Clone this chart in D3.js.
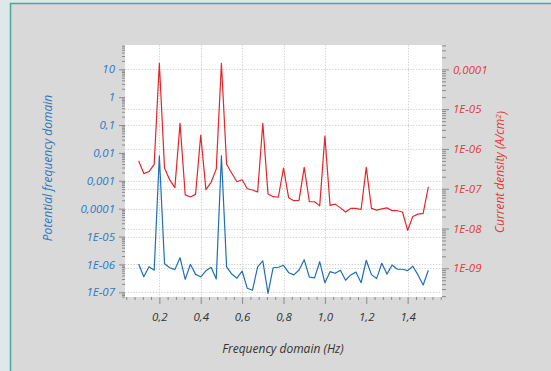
<!DOCTYPE html>
<html>
<head>
<meta charset="utf-8">
<script src="https://cdn.jsdelivr.net/npm/d3@7"></script>
<style>
  body { margin: 0; background: #dde8e8; }
  svg text { font-family: "Open Sans", sans-serif; font-style: italic; }
  .tick line { stroke: #8a8a8a; }
  .grid line { stroke: #cfcfcf; stroke-dasharray: 1.2,1.6; }
</style>
</head>
<body>
<svg id="chart" width="551" height="371"></svg>
<script>
// frequency (Hz)
var freq = [0.1, 0.125, 0.15, 0.175, 0.2, 0.225, 0.25, 0.275, 0.3, 0.325,
            0.35, 0.375, 0.4, 0.425, 0.45, 0.475, 0.5, 0.525, 0.55, 0.575,
            0.6, 0.625, 0.65, 0.675, 0.7, 0.725, 0.75, 0.775, 0.8, 0.825,
            0.85, 0.875, 0.9, 0.925, 0.95, 0.975, 1.0, 1.025, 1.05, 1.075,
            1.1, 1.125, 1.15, 1.175, 1.2, 1.225, 1.25, 1.275, 1.3, 1.325,
            1.35, 1.375, 1.4, 1.425, 1.45, 1.475, 1.5];

// potential frequency domain (left axis, blue)
var potential = [1.03e-6, 3.6e-7, 8.3e-7, 6.2e-7, 7.8e-3, 1.06e-6, 7.6e-7, 6.5e-7, 1.74e-6, 2.9e-7,
                 1.01e-6, 4.4e-7, 3.6e-7, 5.9e-7, 7.9e-7, 3.0e-7, 7.8e-3, 8.1e-7, 4.5e-7, 3.2e-7,
                 5.8e-7, 1.39e-7, 1.18e-7, 8.1e-7, 1.33e-6, 9.2e-8, 7.6e-7, 7.9e-7, 9.3e-7, 5.05e-7,
                 4.2e-7, 6.3e-7, 1.48e-6, 3.5e-7, 3.3e-7, 1.25e-6, 2.2e-7, 5.5e-7, 4.8e-7, 6.2e-7,
                 2.7e-7, 4.2e-7, 5.3e-7, 2.2e-7, 1.41e-6, 4.3e-7, 3.1e-7, 1.1e-6, 4.5e-7, 9.5e-7,
                 6.7e-7, 6.7e-7, 6.0e-7, 8.6e-7, 4.2e-7, 1.83e-7, 6.2e-7];

// current density (right axis, red)
var current = [5.0e-7, 2.4e-7, 2.7e-7, 4.1e-7, 1.42e-4, 3.3e-7, 1.66e-7, 1.06e-7, 4.4e-6, 7.0e-8,
               6.2e-8, 7.2e-8, 2.23e-6, 9.5e-8, 1.45e-7, 3.1e-7, 1.42e-4, 4.1e-7, 2.44e-7, 1.5e-7,
               1.68e-7, 1.0e-7, 9.3e-8, 8.3e-8, 4.4e-6, 7.4e-8, 6.3e-8, 6.1e-8, 3.3e-7, 5.9e-8,
               5.0e-8, 5.1e-8, 3.45e-7, 4.7e-8, 4.7e-8, 3.7e-8, 2.1e-6, 3.8e-8, 4.1e-8, 3.3e-8,
               2.6e-8, 3.2e-8, 3.2e-8, 3.0e-8, 3.45e-7, 3.2e-8, 2.9e-8, 3.1e-8, 3.3e-8, 2.8e-8,
               2.8e-8, 2.6e-8, 9.0e-9, 2.0e-8, 2.3e-8, 2.4e-8, 1.12e-7];

// ticks
var xTicks = [0.2, 0.4, 0.6, 0.8, 1.0, 1.2, 1.4];
var xTickLabels = ["0,2", "0,4", "0,6", "0,8", "1,0", "1,2", "1,4"];
var xMinor = [0.04, 0.08, 0.12, 0.16, 0.24, 0.28, 0.32, 0.36, 0.44, 0.48, 0.52, 0.56,
              0.64, 0.68, 0.72, 0.76, 0.84, 0.88, 0.92, 0.96, 1.04, 1.08, 1.12, 1.16,
              1.24, 1.28, 1.32, 1.36, 1.44, 1.48, 1.52, 1.56];
var leftTicks = [10, 1, 0.1, 0.01, 0.001, 1e-4, 1e-5, 1e-6, 1e-7];
var leftTickLabels = ["10", "1", "0,1", "0,01", "0,001", "0,0001", "1E-05", "1E-06", "1E-07"];
var rightTicks = [1e-4, 1e-5, 1e-6, 1e-7, 1e-8, 1e-9];
var rightTickLabels = ["0,0001", "1E-05", "1E-06", "1E-07", "1E-08", "1E-09"];

// grid lines that show in the picture
var xGrid = [0.2, 0.4, 0.6, 0.8, 1.0, 1.4];
var leftGrid = [10, 0.1, 0.001, 1e-4, 1e-5, 1e-6, 1e-7];
var rightGrid = [1e-5, 1e-6, 1e-7, 1e-8, 1e-9];

var blue = "#1f6fb6", red = "#e4262b";
var plot = {left: 125, right: 442, top: 45, bottom: 297};

var svg = d3.select("#chart");

// outer panel
svg.append("rect").attr("x", 10.5).attr("y", 3.5).attr("width", 560).attr("height", 380)
  .attr("fill", "#d9d9d9").attr("stroke", "#4fa59e").attr("stroke-width", 1.5);

svg.append("rect")
  .attr("x", plot.left).attr("y", plot.top)
  .attr("width", plot.right - plot.left).attr("height", plot.bottom - plot.top)
  .attr("fill", "#fff");

var x = d3.scaleLinear().domain([0.034, 1.566]).range([plot.left, plot.right]);
var yL = d3.scaleLog().domain([Math.pow(10, -7.169), Math.pow(10, 1.872)]).range([plot.bottom, plot.top]);
var yR = d3.scaleLog().domain([Math.pow(10, -9.721), Math.pow(10, -3.389)]).range([plot.bottom, plot.top]);

// log minor ticks
function logMinor(scale) {
  var d = scale.domain(), out = [];
  for (var e = Math.floor(Math.log10(d[0])); e <= Math.ceil(Math.log10(d[1])); e++) {
    for (var m = 2; m <= 9; m++) {
      var v = m * Math.pow(10, e);
      if (v >= d[0] && v <= d[1]) out.push(v);
    }
  }
  return out;
}

// grid
var grid = svg.append("g").attr("class", "grid");
grid.selectAll(".gx").data(xGrid).enter().append("line")
  .attr("x1", function(d) { return Math.round(x(d)) + 0.5; })
  .attr("x2", function(d) { return Math.round(x(d)) + 0.5; })
  .attr("y1", plot.top).attr("y2", plot.bottom);
grid.selectAll(".gl").data(leftGrid).enter().append("line")
  .attr("x1", plot.left).attr("x2", plot.right)
  .attr("y1", function(d) { return Math.round(yL(d)) + 0.5; })
  .attr("y2", function(d) { return Math.round(yL(d)) + 0.5; });
grid.selectAll(".gr").data(rightGrid).enter().append("line")
  .attr("x1", plot.left).attr("x2", plot.right)
  .attr("y1", function(d) { return Math.round(yR(d)) + 0.5; })
  .attr("y2", function(d) { return Math.round(yR(d)) + 0.5; });

// axes
function styleAxis(g) {
  g.select(".domain").remove();
  g.selectAll("text").style("font-size", "11.5px");
}

svg.append("g").attr("transform", "translate(0," + plot.bottom + ")")
  .call(d3.axisBottom(x).tickValues(xMinor).tickSize(3).tickFormat(""))
  .call(styleAxis);
svg.append("g").attr("transform", "translate(0," + plot.bottom + ")")
  .call(d3.axisBottom(x).tickValues(xTicks).tickSize(7).tickPadding(9)
        .tickFormat(function(d, i) { return xTickLabels[i]; }))
  .call(styleAxis)
  .selectAll("text").attr("fill", "#333");

svg.append("g").attr("transform", "translate(" + plot.left + ",0)")
  .call(d3.axisLeft(yL).tickValues(logMinor(yL)).tickSize(3).tickFormat(""))
  .call(styleAxis);
svg.append("g").attr("transform", "translate(" + plot.left + ",0)")
  .call(d3.axisLeft(yL).tickValues(leftTicks).tickSize(6).tickPadding(4)
        .tickFormat(function(d, i) { return leftTickLabels[i]; }))
  .call(styleAxis)
  .selectAll("text").attr("fill", "#2e78c0");

svg.append("g").attr("transform", "translate(" + plot.right + ",0)")
  .call(d3.axisRight(yR).tickValues(logMinor(yR)).tickSize(4).tickFormat(""))
  .call(styleAxis);
svg.append("g").attr("transform", "translate(" + plot.right + ",0)")
  .call(d3.axisRight(yR).tickValues(rightTicks).tickSize(7).tickPadding(4)
        .tickFormat(function(d, i) { return rightTickLabels[i]; }))
  .call(styleAxis)
  .selectAll("text").attr("fill", "#e2393a");

// lines
var lineL = d3.line().x(function(d, i) { return x(freq[i]); }).y(function(d) { return yL(d); });
var lineR = d3.line().x(function(d, i) { return x(freq[i]); }).y(function(d) { return yR(d); });

svg.append("path").datum(current).attr("d", lineR)
  .attr("fill", "none").attr("stroke", red).attr("stroke-width", 1.2).attr("stroke-linejoin", "round");
svg.append("path").datum(potential).attr("d", lineL)
  .attr("fill", "none").attr("stroke", blue).attr("stroke-width", 1.2).attr("stroke-linejoin", "round");

// axis titles
svg.append("text")
  .attr("transform", "translate(52,168) rotate(-90)")
  .attr("text-anchor", "middle").style("font-size", "12px").attr("fill", "#2e78c0")
  .text("Potential frequency domain");

var rt = svg.append("text")
  .attr("transform", "translate(504,172) rotate(-90)")
  .attr("text-anchor", "middle").style("font-size", "12px").attr("fill", "#e2393a");
rt.append("tspan").text("Current density (A/cm");
rt.append("tspan").attr("dy", "-0.4em").style("font-size", "8px").text("2");
rt.append("tspan").attr("dy", "0.4em").text(")");

svg.append("text")
  .attr("x", 283).attr("y", 353)
  .attr("text-anchor", "middle").style("font-size", "12px").attr("fill", "#333")
  .text("Frequency domain (Hz)");
</script>
</body>
</html>
